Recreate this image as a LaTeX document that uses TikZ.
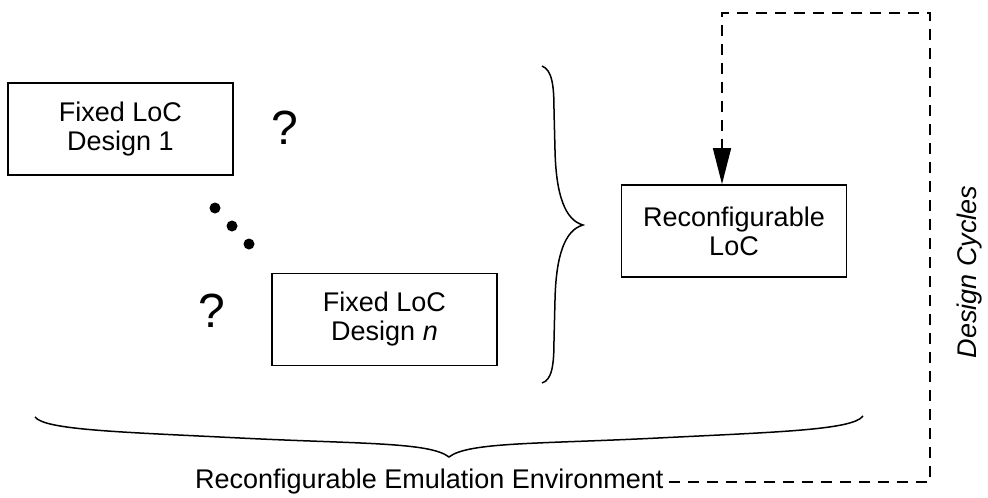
\documentclass[tikz,border=0pt]{standalone}
\usepackage{fontspec}
\setmainfont{Liberation Sans}
\usetikzlibrary{arrows.meta}
\tikzset{
  box/.style={draw, line width=1.6pt, minimum width=225pt, minimum height=92pt, align=center, inner sep=0pt, font=\fontsize{27}{29}\selectfont},
  qmark/.style={inner sep=0pt, font=\fontsize{48}{50}\selectfont},
  lbl/.style={inner sep=0pt, font=\fontsize{27}{29}\selectfont},
  brace/.style={line width=1.5pt},
  loop/.style={line width=1.5pt, dash pattern=on 11pt off 8pt},
  dot/.style={fill=black, circle, minimum size=11pt, inner sep=0pt}
}
\begin{document}
\begin{tikzpicture}[x=1pt,y=-1pt]
\useasboundingbox (0,0) rectangle (988,498);
\node[box] (d1) at (120.5,129) {Fixed LoC\\Design 1};
\node[box] (dn) at (384.5,319.5) {Fixed LoC\\Design \textit{n}};
\node[box] (rl) at (734,231) {Reconfigurable\\LoC};
\node[qmark] (q1) at (285,128) {?};
\node[qmark] (q2) at (212,311) {?};
\node[dot] (p1) at (215,208) {};
\node[dot] (p2) at (232,226) {};
\node[dot] (p3) at (249,244) {};
% right brace
\draw[brace] (542,66) .. controls (552,70) and (554,85) .. (554,110) -- (555,150)
  .. controls (556,195) and (565,220) .. (583,225)
  .. controls (565,230) and (556,255) .. (555,300) -- (554,340)
  .. controls (554,365) and (552,380) .. (542,383);
% bottom brace
\draw[brace] (35,417) .. controls (45,430) and (120,432) .. (240,438)
  .. controls (360,444) and (430,442) .. (449,457)
  .. controls (468,442) and (538,444) .. (658,438)
  .. controls (778,432) and (853,430) .. (863,416);
\node[lbl, anchor=base west] (env) at (195,488) {Reconfigurable Emulation Environment};
\node[lbl, font=\fontsize{27}{29}\selectfont\itshape, rotate=90] (dc) at (970,272) {Design Cycles};
\coordinate (s) at ([xshift=5pt]env.east |- 0,482);
\coordinate (c1) at (930,482);
\coordinate (c2) at (930,13);
\coordinate (c3) at (722,13);
\draw[loop, -{Triangle[length=36pt,width=18pt]}] (s) -- (c1) -- (c2) -- (c3) -- (c3 |- rl.north);
\end{tikzpicture}
\end{document}
